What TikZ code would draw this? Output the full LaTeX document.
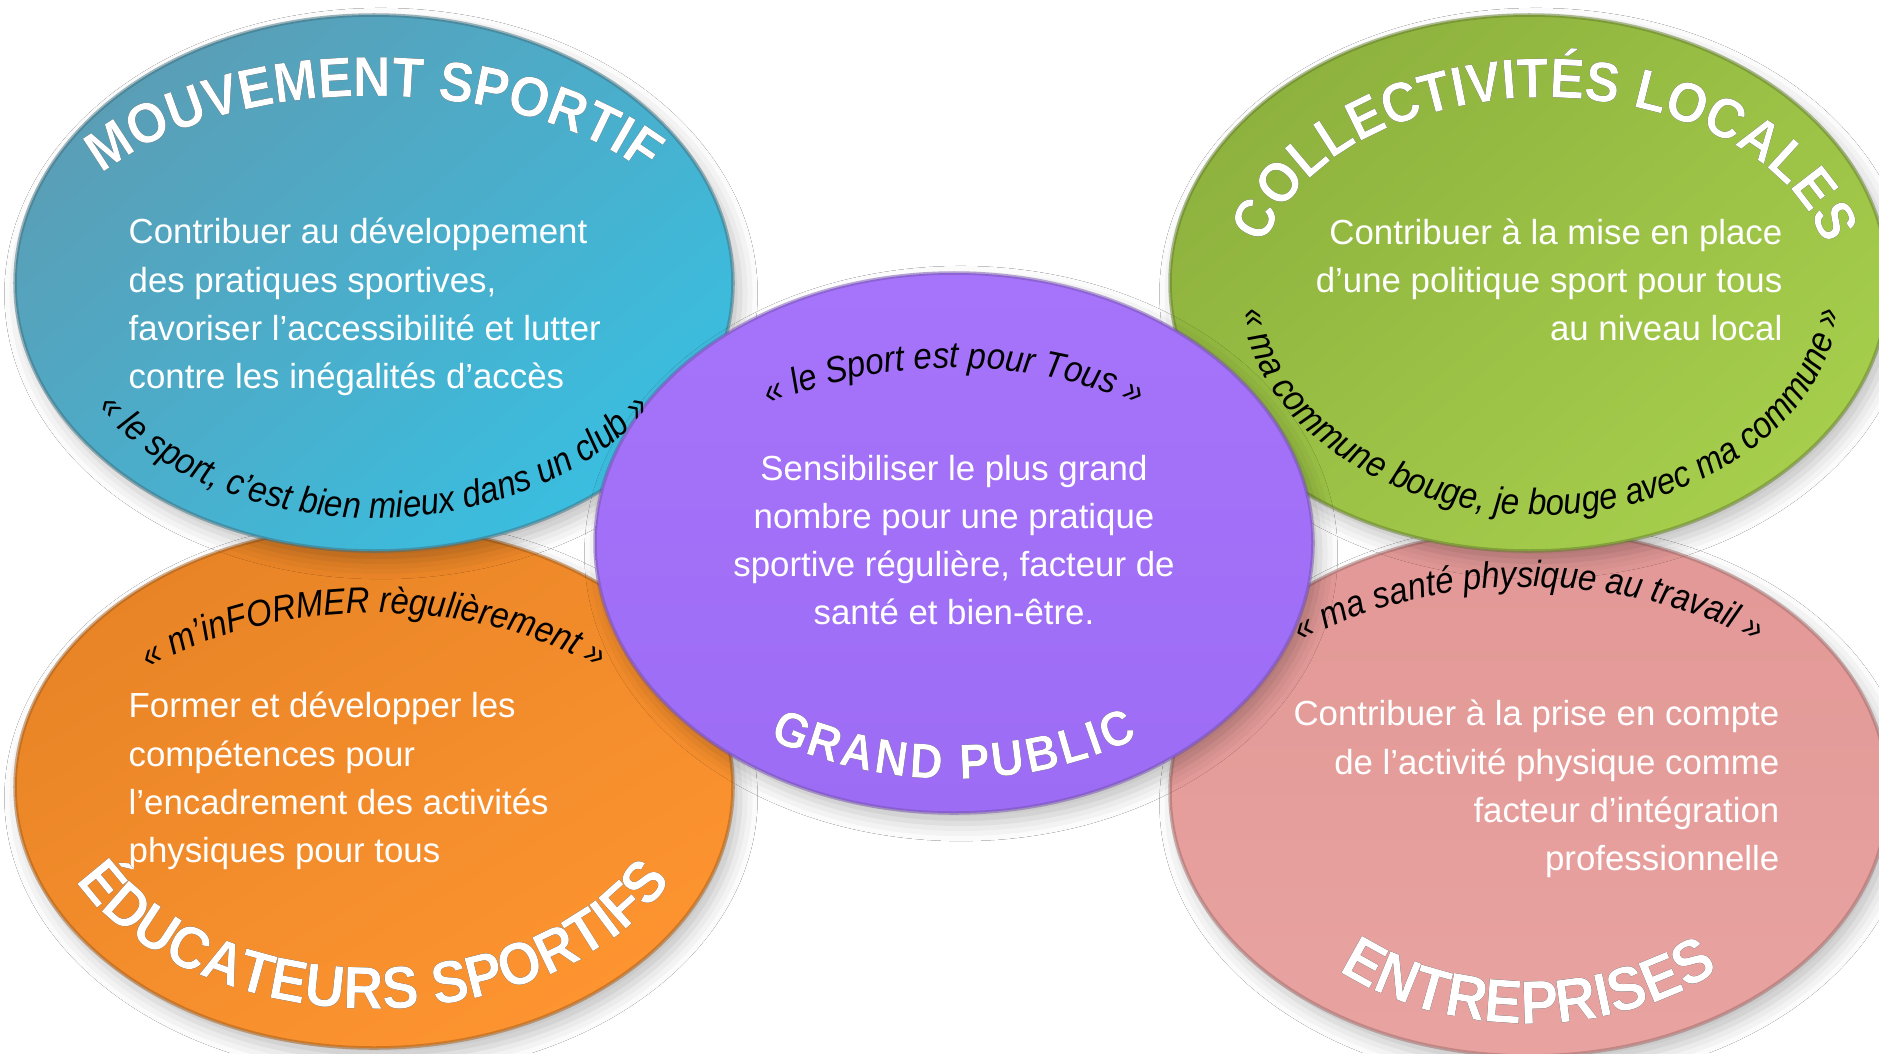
\documentclass[tikz,border=0pt]{standalone}
\usepackage{fontspec}
\setmainfont{Liberation Sans}
\newfontfamily\titrefamily[FakeStretch=0.92]{Liberation Sans}
\newfontfamily\citefamily[FakeStretch=0.9]{Liberation Sans}
\usetikzlibrary{decorations.text,shadows.blur}

\definecolor{bleuA}{HTML}{5A9EB6}
\definecolor{bleuB}{HTML}{3ABEE0}
\definecolor{orangeA}{HTML}{E88426}
\definecolor{orangeB}{HTML}{FD9430}
\definecolor{violetA}{HTML}{A674FA}
\definecolor{violetB}{HTML}{9D6CF5}
\definecolor{vertA}{HTML}{8EB23E}
\definecolor{vertB}{HTML}{A6CE4C}
\definecolor{roseA}{HTML}{E29896}
\definecolor{roseB}{HTML}{E8A3A0}

\newcommand{\titrefont}[1]{\titrefamily\fontsize{#1}{#1}\selectfont\bfseries}
\newcommand{\citefont}{\citefamily\fontsize{10.4}{10.4}\selectfont\itshape}

\tikzset{
  bulle/.style={blur shadow={shadow xshift=2pt, shadow yshift=-3pt, shadow blur radius=5pt, shadow opacity=25},
    draw=#1!70!black, draw opacity=0.5, line width=1pt},
  corps/.style={text=white, inner sep=0pt, font=\fontsize{9.9}{13.7}\selectfont},
  titre/.style n args={3}{
    preaction={decorate, fill opacity=0.45, transform canvas={shift={(1.2pt,-1.5pt)}},
      decoration={text along path, text align=#1, text color=black, text={|\titrefont{#2}|#3}}},
    postaction={decorate,
      decoration={text along path, text align=#1, text color=white, text={|\titrefont{#2}|#3}}}},
  citation/.style={postaction={decorate,
      decoration={text along path, text align=center, text color=black, text={|\citefont|#1}}}}
}

\begin{document}
\begin{tikzpicture}[x=0.01cm, y=0.01cm]
  \useasboundingbox (0,0) rectangle (1879,1053);
  \fill[white] (0,0) rectangle (1879,1053);
  % Centres
  \coordinate (ms) at (374,770);
  \coordinate (ed) at (374,266);
  \coordinate (gp) at (954,510);
  \coordinate (cl) at (1529,770);
  \coordinate (clTitre) at (1545,770);
  \coordinate (clCitation) at (1541,764);
  \coordinate (en) at (1529,260);
  % Ellipses
  \shade[bulle=orangeA, top color=orangeA, bottom color=orangeB, shading angle=30] (ed) ellipse [x radius=359, y radius=261];
  \shade[bulle=bleuA, top color=bleuA, bottom color=bleuB, shading angle=40] (ms) ellipse [x radius=359, y radius=268];
  \shade[bulle=roseA, top color=roseA, bottom color=roseB] (en) ellipse [x radius=359, y radius=263];
  \shade[bulle=vertA, top color=vertA, bottom color=vertB, shading angle=40] (cl) ellipse [x radius=359, y radius=268];
  \shade[bulle=violetA, top color=violetA, bottom color=violetB] (gp) ellipse [x radius=359, y radius=270];
  % Textes
  \node[corps, anchor=west, align=left] (msTexte) at (128,746)
    {Contribuer au développement\\des pratiques sportives,\\favoriser l’accessibilité et lutter\\contre les inégalités d’accès};
  \node[corps, anchor=west, align=left] (edTexte) at (128,272)
    {Former et développer les\\compétences pour\\l’encadrement des activités\\physiques pour tous};
  \node[corps, align=center] (gpTexte) at (954,513)
    {Sensibiliser le plus grand\\nombre pour une pratique\\sportive régulière, facteur de\\santé et bien-être.};
  \node[corps, anchor=east, align=right] (clTexte) at (1783,773)
    {Contribuer à la mise en place\\d’une politique sport pour tous\\au niveau local};
  \node[corps, anchor=east, align=right] (enTexte) at (1780,264)
    {Contribuer à la prise en compte\\de l’activité physique comme\\facteur d’intégration\\professionnelle};
  % Titres
  \path[titre={center}{16}{MOUVEMENT SPORTIF}] ([shift={(ms)}]175:335 and 187)
    arc [start angle=175, end angle=5, x radius=335, y radius=187];
  \path[titre={center}{17}{ÉDUCATEURS SPORTIFS}] ([shift={(ed)}]185:328 and 222)
    arc [start angle=185, end angle=355, x radius=328, y radius=222];
  \path[titre={fit to path}{14}{GRAND PUBLIC}] ([shift={(gp)}]236:330 and 236)
    arc [start angle=236, end angle=304, x radius=330, y radius=236];
  \path[titre={center}{16}{COLLECTIVITÉS LOCALES}] ([shift={(clTitre)}]185:285 and 185)
    arc [start angle=185, end angle=-5, x radius=285, y radius=185];
  \path[titre={center}{17.5}{ENTREPRISES}] ([shift={(en)}]190:298 and 231)
    arc [start angle=190, end angle=350, x radius=298, y radius=231];
  % Citations
  \path[citation={« le sport, c’est bien mieux dans un club »}] ([shift={(ms)}]188:326 and 235)
    arc [start angle=188, end angle=352, x radius=326, y radius=235];
  \path[citation={« m’inFORMER règulièrement »}] ([shift={(ed)}]172:305 and 174)
    arc [start angle=172, end angle=8, x radius=305, y radius=174];
  \path[citation={« le Sport est pour Tous »}] ([shift={(gp)}]172:298 and 175)
    arc [start angle=172, end angle=8, x radius=298, y radius=175];
  \path[citation={« ma commune bouge, je bouge avec ma commune »}] ([shift={(clCitation)}]182:300 and 226)
    arc [start angle=182, end angle=358, x radius=300, y radius=226];
  \path[citation={« ma santé physique au travail »}] ([shift={(en)}]172:333 and 206)
    arc [start angle=172, end angle=8, x radius=333, y radius=206];
\end{tikzpicture}
\end{document}
